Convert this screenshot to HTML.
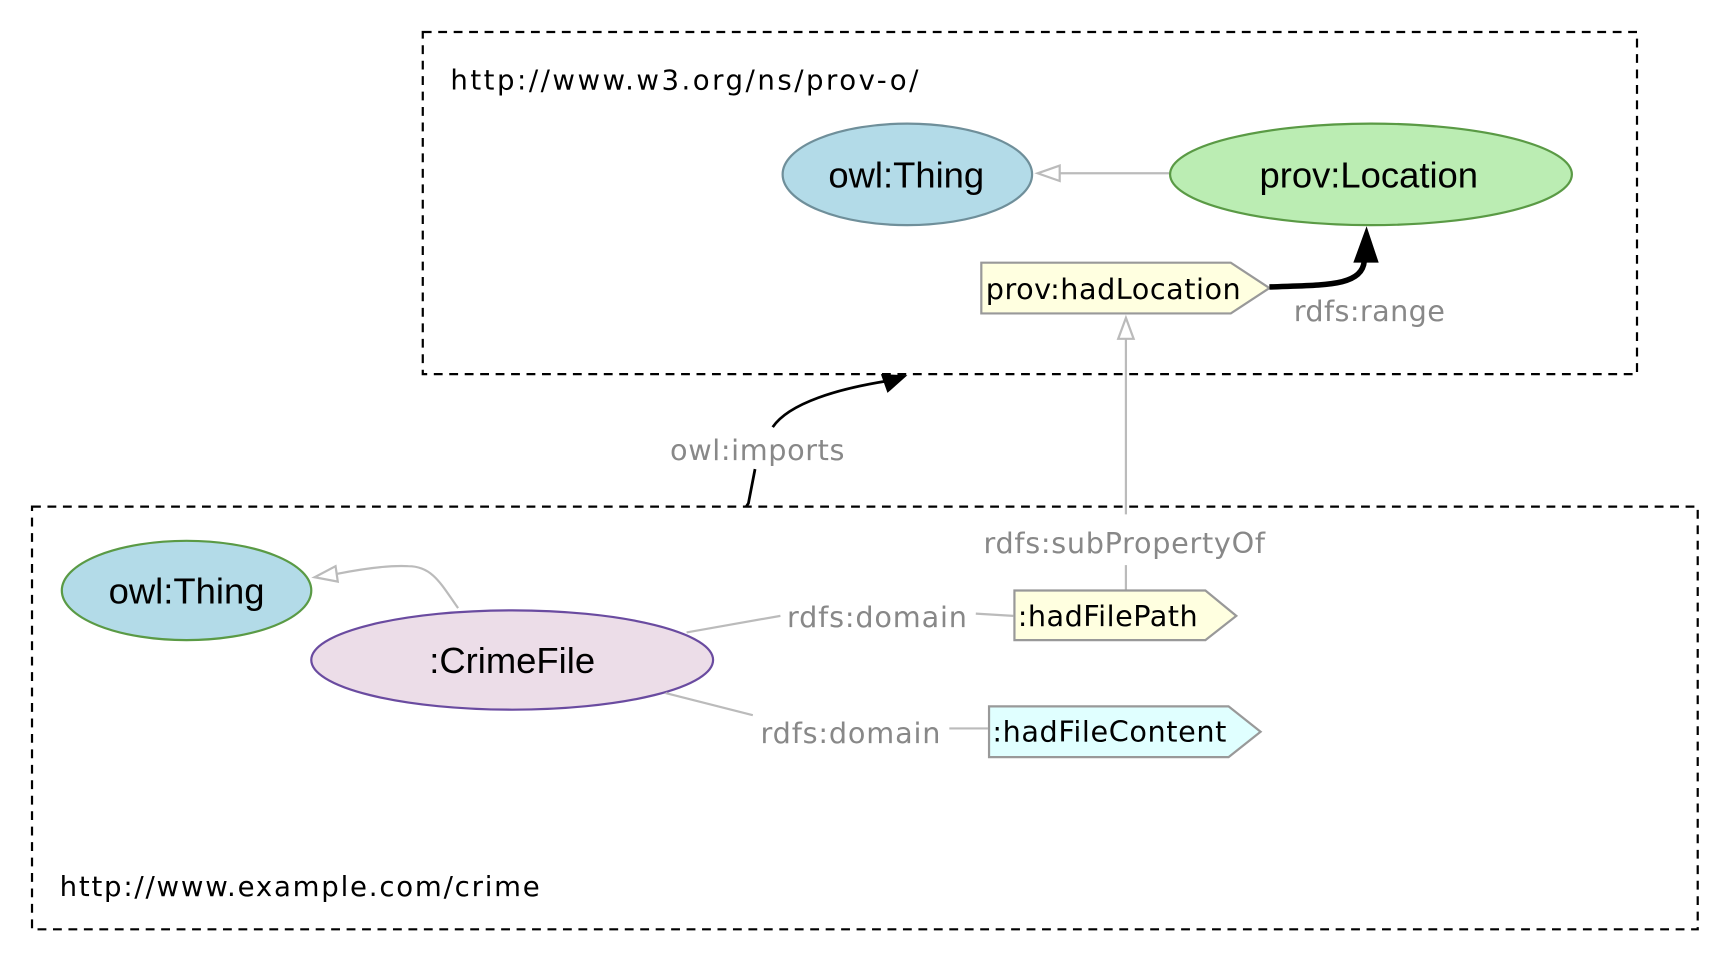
<!DOCTYPE html>
<html><head><meta charset="utf-8"><style>html,body{margin:0;padding:0;background:#fff;}svg{display:block}</style></head>
<body>
<svg width="1722" height="958" viewBox="0 0 1560 868" preserveAspectRatio="none" xmlns="http://www.w3.org/2000/svg">
<g fill="none" stroke="#000" stroke-width="2" stroke-dasharray="8,6">
<rect x="383" y="29" width="1100" height="310"/>
<rect x="29" y="459" width="1509" height="383"/>
</g>
<g font-family="'DejaVu Sans', sans-serif" font-size="25" fill="#000" letter-spacing="1">
<text x="408" y="81" textLength="425">http://www.w3.org/ns/prov-o/</text>
<text x="54" y="812" textLength="436">http://www.example.com/crime</text>
</g>
<!-- top graph -->
<ellipse cx="822" cy="158" rx="113" ry="46" fill="#b3dbe8" stroke="#6f8f9a" stroke-width="2"/>
<ellipse cx="1242" cy="158" rx="182" ry="46" fill="#bbedb3" stroke="#5a9a45" stroke-width="2"/>
<line x1="1059" y1="157" x2="960" y2="157" stroke="#bbb" stroke-width="2"/>
<polygon points="940,157 960,150 960,164" fill="#fff" stroke="#bbb" stroke-width="2"/>
<polygon points="889,238 1115,238 1150,261 1115,284 889,284" fill="#ffffe0" stroke="#999" stroke-width="2"/>
<path d="M1150,260 C1200,258 1234,260 1236,236" fill="none" stroke="#000" stroke-width="5"/>
<polygon points="1226,238 1249,238 1238,205" fill="#000"/>
<line x1="1020" y1="307" x2="1020" y2="466" stroke="#bbb" stroke-width="2"/>
<line x1="1020" y1="512" x2="1020" y2="535" stroke="#bbb" stroke-width="2"/>
<polygon points="1020,288 1013,307 1027,307" fill="#fff" stroke="#bbb" stroke-width="2"/>
<!-- imports -->
<path d="M676,459 L678,456 L684,425" fill="none" stroke="#000" stroke-width="2.5"/>
<path d="M700,387 C715,365 760,352 805,345" fill="none" stroke="#000" stroke-width="2.5"/>
<polygon points="822,340 798,339 804,356" fill="#000"/>
<!-- bottom graph -->
<ellipse cx="169" cy="535" rx="113" ry="45" fill="#b3dbe8" stroke="#5a9a45" stroke-width="2"/>
<path d="M415,551 C400,530 392,513 370,513 C350,512 325,516 305,520" fill="none" stroke="#bbb" stroke-width="2"/>
<polygon points="285,523 304,513 306,527" fill="#fff" stroke="#bbb" stroke-width="2"/>
<ellipse cx="464" cy="598" rx="182" ry="45" fill="#ecdde8" stroke="#6a4ba0" stroke-width="2"/>
<line x1="622" y1="573" x2="707" y2="558" stroke="#bbb" stroke-width="2"/>
<line x1="884" y1="556" x2="918" y2="558" stroke="#bbb" stroke-width="2"/>
<line x1="603" y1="628" x2="682" y2="648" stroke="#bbb" stroke-width="2"/>
<line x1="860" y1="660" x2="895" y2="660" stroke="#bbb" stroke-width="2"/>
<polygon points="919,535 1092,535 1120,558 1092,580 919,580" fill="#ffffe0" stroke="#999" stroke-width="2"/>
<polygon points="896,640 1113,640 1142,663 1113,686 896,686" fill="#e0ffff" stroke="#999" stroke-width="2"/>
<g font-family="'Liberation Sans', sans-serif" font-size="33" fill="#000" text-anchor="middle">
<text x="821" y="170">owl:Thing</text>
<text x="1240" y="170">prov:Location</text>
<text x="169" y="547">owl:Thing</text>
<text x="464" y="610">:CrimeFile</text>
</g>
<g font-family="'DejaVu Sans', sans-serif" font-size="26" fill="#888">
<text x="1172" y="291" textLength="137">rdfs:range</text>
<text x="891" y="501" textLength="255">rdfs:subPropertyOf</text>
<text x="607" y="417" textLength="158">owl:imports</text>
<text x="713" y="568" textLength="163">rdfs:domain</text>
<text x="689" y="673" textLength="163">rdfs:domain</text>
</g>
<g font-family="'DejaVu Sans', sans-serif" font-size="26" fill="#000">
<text x="893" y="271" textLength="231">prov:hadLocation</text>
<text x="922" y="567" textLength="163">:hadFilePath</text>
<text x="899" y="672" textLength="212">:hadFileContent</text>
</g>
</svg>
</body></html>
